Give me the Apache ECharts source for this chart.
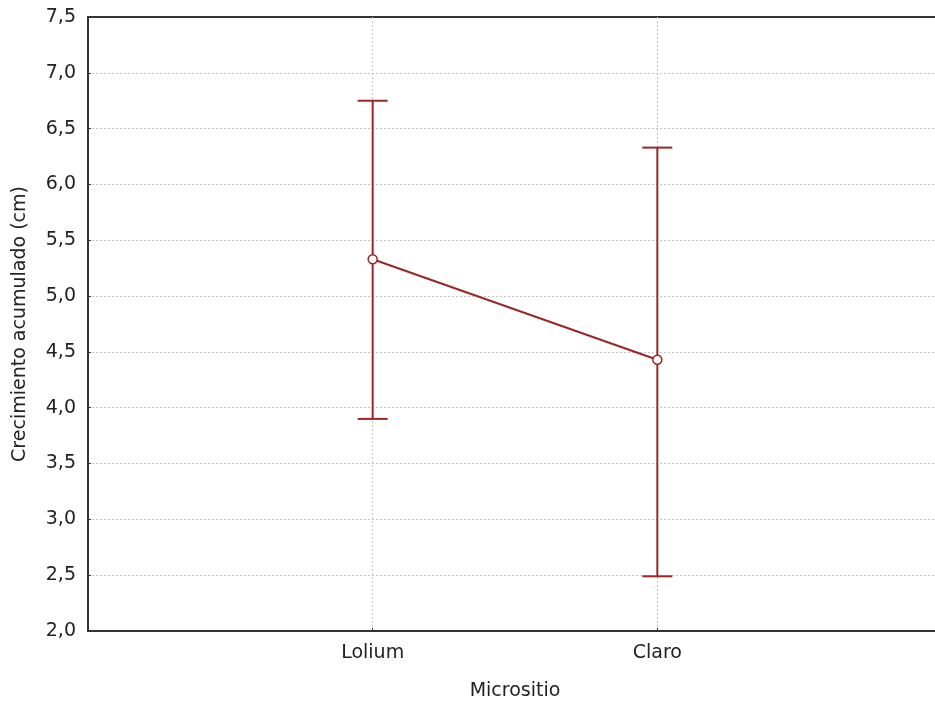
<!DOCTYPE html>
<html>
<head>
<meta charset="utf-8">
<script src="https://cdn.jsdelivr.net/npm/echarts@6/dist/echarts.min.js"></script>
<style>
html,body{margin:0;padding:0;background:#fff;}
#c{width:935px;height:705px;}
</style>
</head>
<body>
<div id="c"></div>
<script>
var categories = ['Lolium', 'Claro'];
var means = [5.33, 4.43];
var upper = [6.75, 6.33];
var lower = [3.90, 2.49];
var yTicks = [2.0, 2.5, 3.0, 3.5, 4.0, 4.5, 5.0, 5.5, 6.0, 6.5, 7.0, 7.5];

var red = '#9B2626';
var font = 'DejaVu Sans';
var fs = 19;

var chart = echarts.init(document.getElementById('c'), null, {renderer: 'canvas'});

var errData = categories.map(function (c, i) { return [i + 1, lower[i], upper[i]]; });
var meanData = categories.map(function (c, i) { return [i + 1, means[i]]; });

chart.setOption({
  animation: false,
  backgroundColor: '#fff',
  grid: {
    left: 88, top: 17, width: 854, height: 614,
    outerBoundsMode: 'none',
    containLabel: false,
    show: true, borderColor: '#333', borderWidth: 2, backgroundColor: 'transparent'
  },
  xAxis: {
    type: 'value', min: 0, max: 3, interval: 1,
    name: 'Micrositio', nameLocation: 'middle', nameGap: 51,
    nameTextStyle: {fontFamily: font, fontSize: fs, color: '#222'},
    axisLine: {show: true, lineStyle: {color: '#333', width: 2}},
    axisTick: {show: true, inside: true, length: 3, lineStyle: {color: '#333'}},
    axisLabel: {
      fontFamily: font, fontSize: fs, color: '#222', margin: 13,
      formatter: function (v) { return categories[v - 1] || ''; }
    },
    splitLine: {show: true, showMinLine: false, showMaxLine: false, lineStyle: {color: '#c4c4c4', type: [2, 2], width: 1}}
  },
  yAxis: {
    type: 'value', min: 2, max: 7.5, interval: 0.5,
    name: 'Crecimiento acumulado (cm)', nameLocation: 'middle', nameGap: 58,
    nameTextStyle: {fontFamily: font, fontSize: fs, color: '#222'},
    axisLine: {show: true, lineStyle: {color: '#333', width: 2}},
    axisTick: {show: true, inside: true, length: 3, lineStyle: {color: '#333'}},
    axisLabel: {
      fontFamily: font, fontSize: fs, color: '#222', margin: 12,
      formatter: function (v) { return v.toFixed(1).replace('.', ','); }
    },
    splitLine: {show: true, showMinLine: false, showMaxLine: false, lineStyle: {color: '#c4c4c4', type: [2, 2], width: 1}}
  },
  series: [
    {
      type: 'custom',
      z: 3,
      data: errData,
      renderItem: function (params, api) {
        var x = api.value(0);
        var lo = api.coord([x, api.value(1)]);
        var hi = api.coord([x, api.value(2)]);
        var hw = 15;
        var st = {stroke: red, lineWidth: 2};
        return {
          type: 'group',
          children: [
            {type: 'line', shape: {x1: lo[0], y1: lo[1], x2: hi[0], y2: hi[1]}, style: st},
            {type: 'line', shape: {x1: hi[0] - hw, y1: hi[1], x2: hi[0] + hw, y2: hi[1]}, style: st},
            {type: 'line', shape: {x1: lo[0] - hw, y1: lo[1], x2: lo[0] + hw, y2: lo[1]}, style: st}
          ]
        };
      }
    },
    {
      type: 'line',
      z: 4,
      data: meanData,
      symbol: 'circle',
      symbolSize: 9,
      lineStyle: {color: red, width: 2},
      itemStyle: {color: '#fff', borderColor: red, borderWidth: 1.5}
    }
  ]
});
</script>
</body>
</html>
